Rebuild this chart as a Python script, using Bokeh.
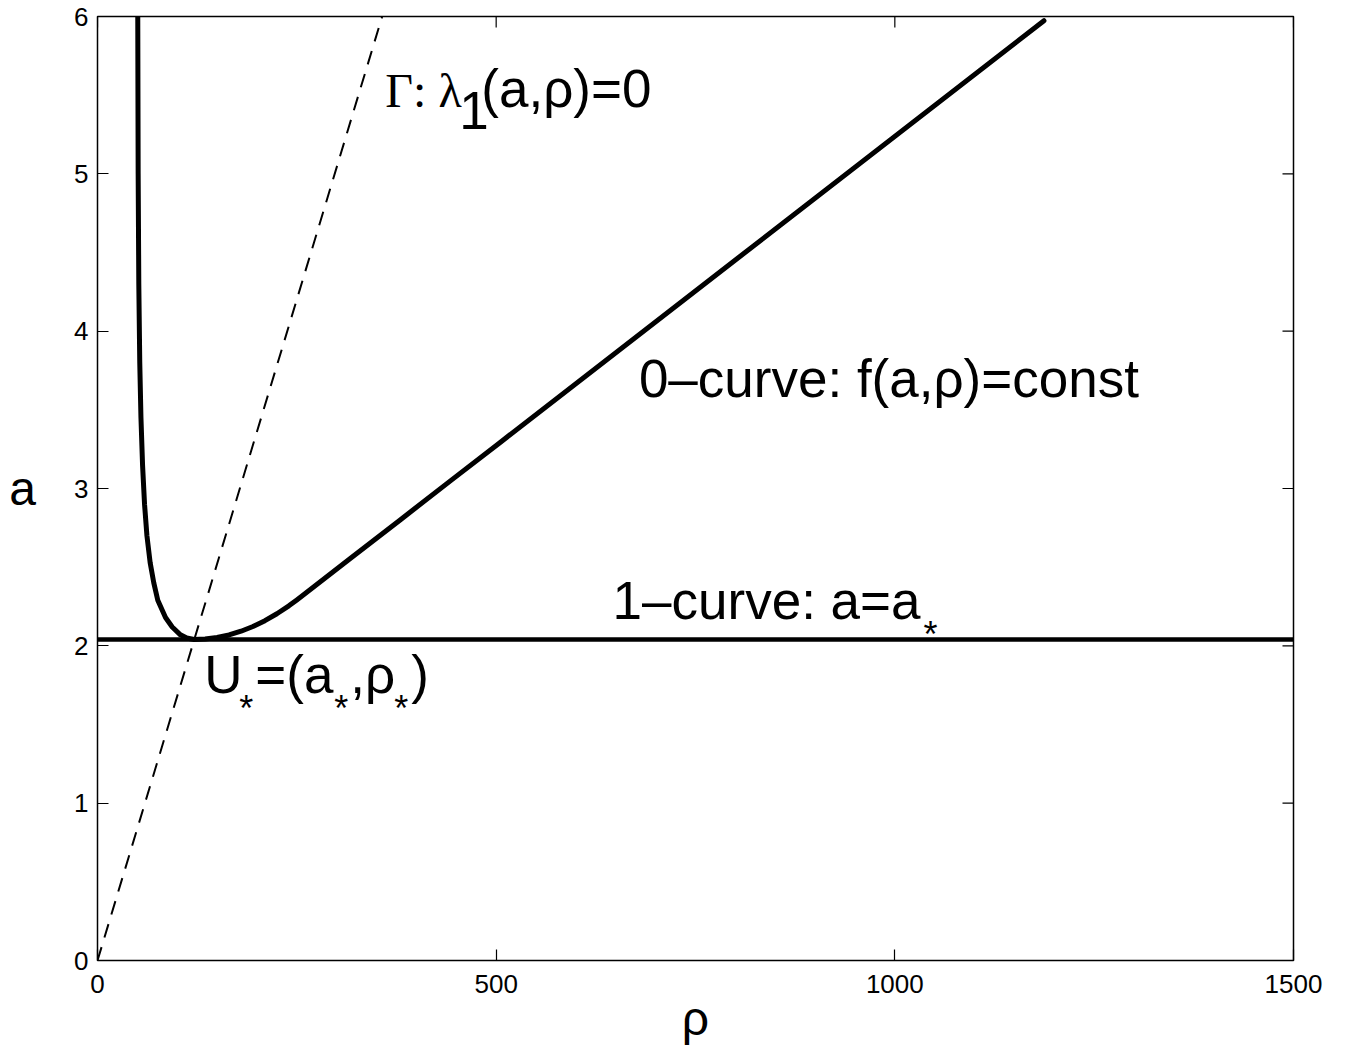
import math

from bokeh.plotting import figure
from bokeh.models import Range1d, LinearAxis, Label, FixedTicker
from bokeh.embed import file_html
from bokeh.resources import INLINE

# 0-curve  f(a, rho) = const  (left branch from the top down to the minimum, then right branch)
zero_curve_rho = [50.5, 51.0, 51.8, 53.0, 54.5, 56.5, 59.0, 62.0, 66.0, 70.6, 75.6, 85.3,
                  93.7, 104.0, 112.0, 121.0, 135.0, 150.0, 165.0, 180.0, 195.0, 210.0,
                  225.0, 240.0, 250.0, 317.0, 380.0, 443.0, 505.0, 1187.0]
zero_curve_a = [6.00, 5.00, 4.30, 3.80, 3.45, 3.15, 2.90, 2.70, 2.53, 2.40, 2.29, 2.18,
                2.12, 2.07, 2.05, 2.04, 2.043, 2.053, 2.069, 2.093, 2.123, 2.160,
                2.204, 2.254, 2.292, 2.555, 2.802, 3.050, 3.293, 5.973]

# 1-curve  a = a_*
a_star = 2.04
one_curve_rho = [0.0, 1500.0]
one_curve_a = [a_star, a_star]

# Gamma : lambda_1(a, rho) = 0
gamma_rho = [0.0, 357.0]
gamma_a = [0.0, 6.0]

x_ticks = [0, 500, 1000, 1500]
y_ticks = [0, 1, 2, 3, 4, 5, 6]

SANS = "Liberation Sans"
SERIF = "Liberation Serif"
TICK_LEN = 11

p = figure(width=1345, height=1047, output_backend="svg", toolbar_location=None,
           x_range=Range1d(0, 1500), y_range=Range1d(0, 6),
           x_axis_location=None, y_axis_location=None,
           min_border_left=97, min_border_right=52, min_border_top=16, min_border_bottom=87)
p.background_fill_color = "white"
p.border_fill_color = "white"
p.outline_line_color = "black"
p.outline_line_width = 1.5
p.xgrid.visible = False
p.ygrid.visible = False


def styled_axis(axis, ticks, standoff):
    axis.ticker = FixedTicker(ticks=ticks)
    axis.major_tick_in = TICK_LEN
    axis.major_tick_out = 0
    axis.minor_tick_in = 0
    axis.minor_tick_out = 0
    axis.axis_line_color = None
    axis.major_tick_line_color = "black"
    axis.major_tick_line_width = 1.2
    axis.major_label_text_font = SANS
    axis.major_label_text_font_size = "26px"
    axis.major_label_text_color = "black"
    axis.major_label_standoff = standoff
    axis.axis_label_text_font = SANS
    axis.axis_label_text_font_size = "48px"
    axis.axis_label_text_font_style = "normal"
    axis.axis_label_text_color = "black"
    return axis


xb = styled_axis(LinearAxis(), x_ticks, 14)
xb.axis_label = "ρ"
xb.axis_label_standoff = -4
p.add_layout(xb, "below")

yl = styled_axis(LinearAxis(), y_ticks, 9)
yl.axis_label = "a"
yl.axis_label_orientation = "horizontal"
yl.axis_label_standoff = 35
p.add_layout(yl, "left")

# inward ticks on the top and right edges of the box
p.ray(x=x_ticks, y=[6] * len(x_ticks), length=TICK_LEN, length_units="screen",
      angle=-math.pi / 2, line_color="black", line_width=1.2)
p.ray(x=[1500] * len(y_ticks), y=y_ticks, length=TICK_LEN, length_units="screen",
      angle=math.pi, line_color="black", line_width=1.2)

# curves
p.line(gamma_rho, gamma_a, line_color="black", line_width=2, line_dash="14 10")
p.line(one_curve_rho, one_curve_a, line_color="black", line_width=4.5)
p.line(zero_curve_rho, zero_curve_a, line_color="black", line_width=5,
       line_join="round", line_cap="round")


def label(x, y, text, font=SANS, size=53, dx=0, dy=0):
    # lift by the text box's descent so that y sits on the alphabetic baseline
    p.add_layout(Label(x=x, y=y, text=text, x_offset=dx, y_offset=dy + 0.355 * size,
                       text_font=font, text_font_size=f"{size}px", text_color="black",
                       text_align="left", text_baseline="alphabetic"))


# Gamma label
label(361, 5.42, "Γ: λ", font=SERIF, size=48)
label(361, 5.42, "1", dx=74, dy=-22)
label(361, 5.42, "(a,ρ)=0", dx=96)

# 0-curve label
label(679, 3.58, "0–curve: f(a,ρ)=const")

# 1-curve label
label(646, 2.17, "1–curve: a=a")
label(646, 2.17, "*", size=36, dx=311, dy=-28)

# U_* label
label(134, 1.70, "U")
label(134, 1.70, "*", size=36, dx=35, dy=-28)
label(134, 1.70, "=(a", dx=51)
label(134, 1.70, "*", size=36, dx=130, dy=-28)
label(134, 1.70, ",ρ", dx=146)
label(134, 1.70, "*", size=36, dx=190, dy=-28)
label(134, 1.70, ")", dx=207)

open("out.html", "w").write(file_html(p, INLINE))
